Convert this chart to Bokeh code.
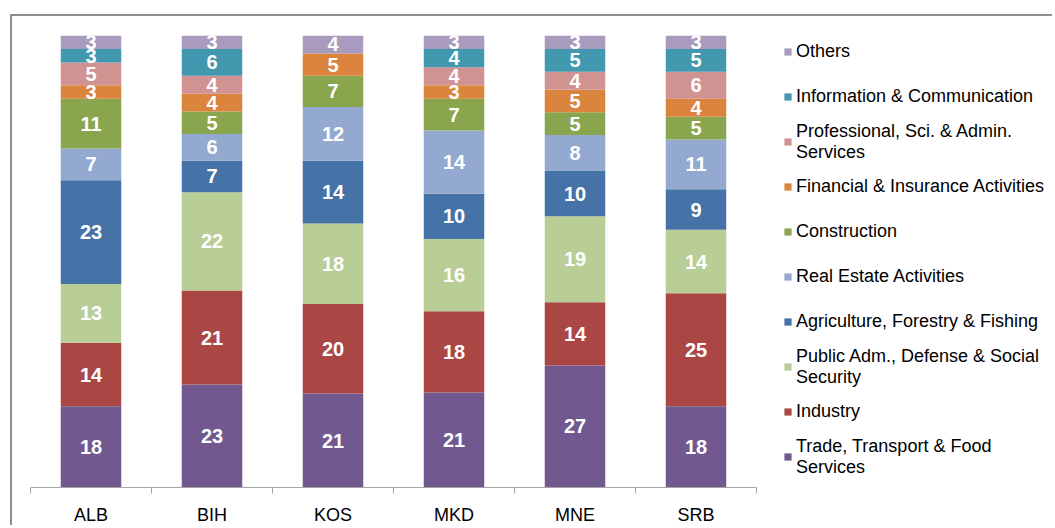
import numpy as np
from bokeh.plotting import figure
from bokeh.models import (ColumnDataSource, Range1d, LinearAxis,
                          FixedTicker, Legend, LegendItem)
from bokeh.core.properties import value
from bokeh.embed import file_html
from bokeh.resources import INLINE

# ---- data (percent of gross value added) ----
countries = ["ALB", "BIH", "KOS", "MKD", "MNE", "SRB"]
trade = [18, 23, 21, 21, 27, 18]
industry = [14, 21, 20, 18, 14, 25]
public_adm = [13, 22, 18, 16, 19, 14]
agriculture = [23, 7, 14, 10, 10, 9]
real_estate = [7, 6, 12, 14, 8, 11]
construction = [11, 5, 7, 7, 5, 5]
financial = [3, 4, 5, 3, 5, 4]
professional = [5, 4, 0, 4, 4, 6]
information = [3, 6, 0, 4, 5, 5]
others = [3, 3, 4, 3, 3, 3]

series_keys = ["trade", "industry", "public_adm", "agriculture", "real_estate",
               "construction", "financial", "professional", "information", "others"]
series_vals = [trade, industry, public_adm, agriculture, real_estate,
               construction, financial, professional, information, others]
series_labels = ["Trade, Transport & Food\nServices", "Industry",
                 "Public Adm., Defense & Social\nSecurity",
                 "Agriculture, Forestry & Fishing", "Real Estate Activities",
                 "Construction", "Financial & Insurance Activities",
                 "Professional, Sci. & Admin.\nServices",
                 "Information & Communication", "Others"]
colors = ["#71588F", "#AA4643", "#B9CD96", "#4572A7", "#93A9CF",
          "#89A54E", "#DB843D", "#D19392", "#4198AF", "#A99BBD"]

FONT = "Liberation Sans"

# ---- layout constants (pixels) ----
CANVAS_W, CANVAS_H = 1042, 511
BORDER_L, BORDER_T, BORDER_B = 18, 19, 36
CAT_AREA_W = 726                      # width occupied by the six categories
FRAME_W = CANVAS_W - BORDER_L

n = len(countries)
pos = [i + 0.5 for i in range(n)]     # category centres on the axis scale

# 100% stacked: normalise each column by its total
raw = np.array(series_vals, dtype=float)
totals = raw.sum(axis=0)
norm = raw / totals * 100.0

data = {"x": pos, "country": countries}
for k, row in zip(series_keys, norm):
    data[k] = list(row)
source = ColumnDataSource(data)

# label positions (segment mid-points)
tops = np.cumsum(norm, axis=0)
mids = tops - norm / 2.0
lx, ly, lt = [], [], []
for i in range(len(series_keys)):
    for j in range(n):
        if raw[i, j] > 0:
            lx.append(pos[j])
            ly.append(mids[i, j])
            lt.append(str(int(raw[i, j])))
label_src = ColumnDataSource(dict(x=lx, y=ly, t=lt))

p = figure(x_range=Range1d(0, n * FRAME_W / CAT_AREA_W),
           y_range=Range1d(0, 100),
           width=CANVAS_W, height=CANVAS_H,
           output_backend="svg", toolbar_location=None,
           x_axis_location=None, y_axis_location=None,
           min_border_left=BORDER_L, min_border_right=0,
           min_border_top=BORDER_T, min_border_bottom=BORDER_B,
           styles={"border-left": "2px solid #8d8d8d",
                   "border-top": "2px solid #8d8d8d",
                   "margin-left": "10px", "margin-top": "14px"})
p.outline_line_color = None
p.xgrid.visible = False
p.ygrid.visible = False
p.background_fill_color = "white"
p.border_fill_color = "white"

renderers = p.vbar_stack(series_keys, x="x", width=0.5, source=source,
                         color=colors, line_color=None)

p.text(x="x", y="y", text="t", source=label_src,
       text_font=value(FONT), text_font_style="bold", text_font_size="20px",
       text_color="white", text_align="center", text_baseline="middle")

# category axis: labels at the centres, tick marks on the category boundaries
x_axis = LinearAxis(ticker=FixedTicker(ticks=pos, minor_ticks=list(range(n + 1))),
                    bounds=(0, n),
                    major_label_overrides={x: c for x, c in zip(pos, countries)},
                    major_tick_line_color=None, major_tick_out=0, major_tick_in=0,
                    minor_tick_out=6, minor_tick_in=0,
                    minor_tick_line_color="#A6A6A6",
                    axis_line_color="#A6A6A6",
                    major_label_standoff=11,
                    major_label_text_font=FONT,
                    major_label_text_font_size="18px",
                    major_label_text_color="black")
p.add_layout(x_axis, "below")

items = [LegendItem(label=lab, renderers=[r])
         for lab, r in zip(series_labels, renderers)][::-1]
legend = Legend(items=items, location=(CAT_AREA_W + 27, 8),
                glyph_width=9, glyph_height=9, label_height=45,
                label_standoff=4, spacing=0, padding=0, margin=0,
                label_text_font=FONT, label_text_font_size="18px",
                label_text_color="black", label_text_line_height=1.1,
                border_line_color=None, background_fill_alpha=0)
p.add_layout(legend, "center")

open("out.html", "w").write(file_html(p, INLINE))
